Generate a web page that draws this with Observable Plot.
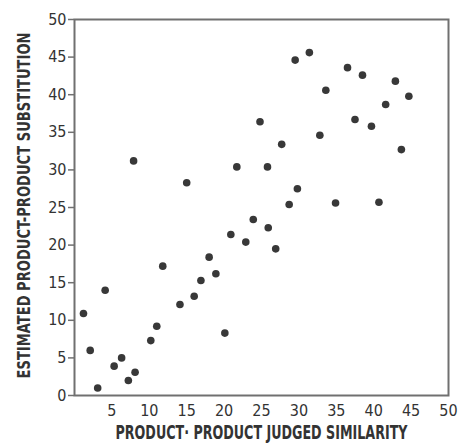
<!DOCTYPE html>
<html>
<head>
<meta charset="utf-8">
<script src="https://cdn.jsdelivr.net/npm/d3@7"></script>
<script src="https://cdn.jsdelivr.net/npm/@observablehq/plot@0.6"></script>
<style>
  html, body { margin: 0; padding: 0; background: #fff; }
</style>
</head>
<body>
<div id="chart"></div>
<script>
// Judged similarity (x) and estimated substitution (y)
const similarity = [1.2, 2.1, 3.1, 4.1, 5.3, 6.3, 7.2, 8.1, 7.9, 10.2, 11.0, 11.8, 14.1, 15.0, 16.0, 16.9, 18.0, 18.9, 20.1, 20.9, 21.7, 22.9, 23.9, 24.8, 25.8, 25.9, 26.9, 27.7, 28.7, 29.5, 29.8, 31.4, 32.8, 33.6, 34.9, 36.5, 37.5, 38.5, 39.7, 40.7, 41.6, 42.9, 43.7, 44.7];
const substitution = [10.9, 6.0, 1.0, 14.0, 3.9, 5.0, 2.0, 3.1, 31.2, 7.3, 9.2, 17.2, 12.1, 28.3, 13.2, 15.3, 18.4, 16.2, 8.3, 21.4, 30.4, 20.4, 23.4, 36.4, 30.4, 22.3, 19.5, 33.4, 25.4, 44.6, 27.5, 45.6, 34.6, 40.6, 25.6, 43.6, 36.7, 42.6, 35.8, 25.7, 38.7, 41.8, 32.7, 39.8];
const yTicks = [0, 5, 10, 15, 20, 25, 30, 35, 40, 45, 50];
const xTicks = [5, 10, 15, 20, 25, 30, 35, 40, 45, 50];
const xTitle = "PRODUCT· PRODUCT JUDGED SIMILARITY";
const yTitle = "ESTIMATED PRODUCT-PRODUCT SUBSTITUTION";

const data = similarity.map((x, i) => ({x, y: substitution[i]}));
const font = "'DejaVu Sans Condensed', 'Liberation Sans Narrow', sans-serif";
const titleFont = "'Liberation Sans Narrow', 'DejaVu Sans Condensed', sans-serif";

const chart = Plot.plot({
  width: 465,
  height: 444,
  marginLeft: 74,
  marginRight: 17,
  marginTop: 19,
  marginBottom: 49,
  style: {fontFamily: font, background: "#fff", color: "#333"},
  x: {domain: [0, 50]},
  y: {domain: [0, 50]},
  marks: [
    Plot.frame({stroke: "#707070", strokeWidth: 2}),
    Plot.axisY(yTicks, {
      ticks: yTicks, tickSize: 6, tickPadding: 2, label: null,
      fontSize: 16, stroke: "#707070", strokeWidth: 1.5, fill: "#333"
    }),
    Plot.axisX(xTicks, {
      ticks: xTicks, tickSize: 0, tickPadding: 9, label: null,
      fontSize: 16, fill: "#333"
    }),
    Plot.dot(data, {x: "x", y: "y", r: 3.8, fill: "#383838", stroke: "none"}),
    Plot.text([xTitle], {
      text: d => d, frameAnchor: "bottom", dy: 43,
      fontSize: 20, fontWeight: "bold", fill: "#333", fontFamily: titleFont
    }),
    Plot.text([yTitle], {
      text: d => d, frameAnchor: "left", textAnchor: "middle", dx: -50, dy: -2, rotate: -90,
      fontSize: 18, fontWeight: "bold", fill: "#333", fontFamily: titleFont
    })
  ]
});

// fit titles to the reference's measured widths
d3.select(chart).selectAll("text").each(function () {
  const t = this.textContent;
  if (t === xTitle) { this.setAttribute("textLength", 292); this.setAttribute("lengthAdjust", "spacingAndGlyphs"); }
  if (t === yTitle) { this.setAttribute("textLength", 346); this.setAttribute("lengthAdjust", "spacingAndGlyphs"); }
});

document.getElementById("chart").appendChild(chart);
</script>
</body>
</html>
